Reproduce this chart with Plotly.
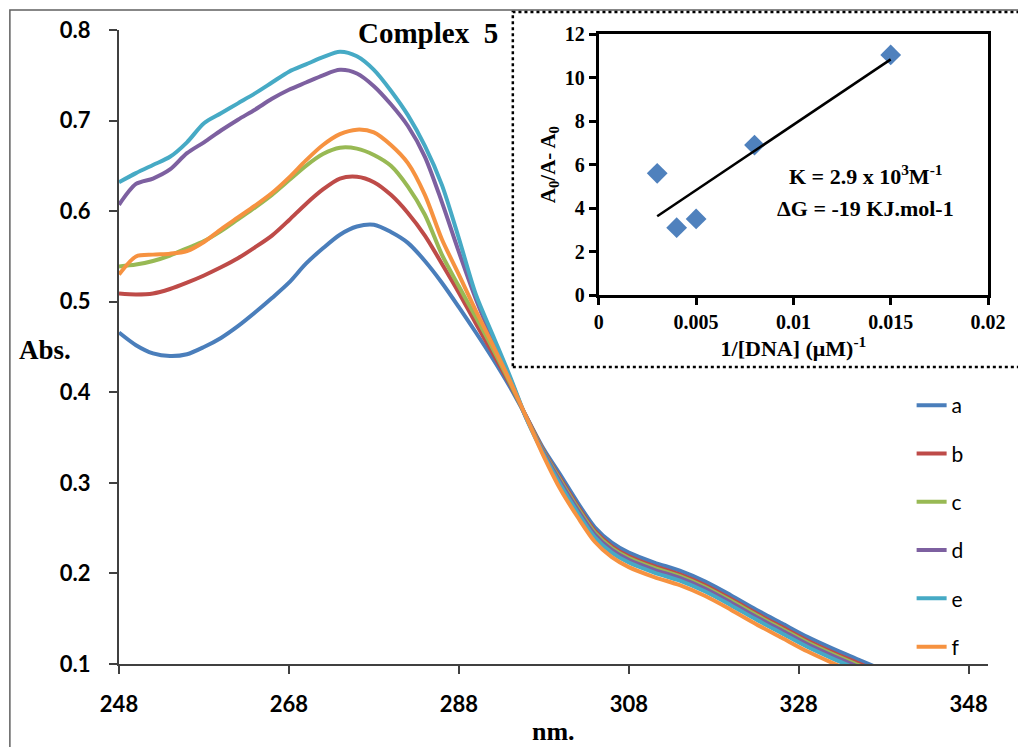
import numpy as np
import plotly.graph_objects as go

# ---------------- data ----------------
wavelength = [248, 250, 252, 254, 256, 258, 260, 262, 264, 266, 268, 270, 272, 274, 276,
              278, 280, 282, 284, 286, 288, 290, 292, 294, 296, 298, 300, 302, 304, 306,
              308, 311, 314, 317, 320, 323, 326, 329, 332, 335, 338]

abs_a = [0.466, 0.452, 0.443, 0.440, 0.442, 0.450, 0.460, 0.473, 0.488, 0.504, 0.521, 0.542,
         0.559, 0.574, 0.583, 0.585, 0.577, 0.565, 0.545, 0.521, 0.494, 0.466, 0.437, 0.406,
         0.372, 0.337, 0.308, 0.278, 0.251, 0.234, 0.223, 0.212, 0.203, 0.191, 0.176, 0.160,
         0.145, 0.130, 0.117, 0.105, 0.093]
abs_b = [0.509, 0.508, 0.509, 0.514, 0.521, 0.529, 0.538, 0.548, 0.560, 0.573, 0.590, 0.608,
         0.624, 0.636, 0.638, 0.632, 0.618, 0.598, 0.573, 0.542, 0.510, 0.476, 0.443, 0.409,
         0.372, 0.335, 0.304, 0.274, 0.247, 0.230, 0.219, 0.208, 0.199, 0.187, 0.172, 0.156,
         0.141, 0.126, 0.113, 0.101, 0.089]
abs_c = [0.539, 0.541, 0.545, 0.551, 0.559, 0.567, 0.578, 0.591, 0.604, 0.618, 0.634, 0.650,
         0.663, 0.670, 0.669, 0.662, 0.650, 0.627, 0.596, 0.552, 0.517, 0.483, 0.448, 0.411,
         0.371, 0.334, 0.302, 0.272, 0.245, 0.228, 0.217, 0.206, 0.197, 0.185, 0.170, 0.154,
         0.139, 0.124, 0.111, 0.099, 0.087]
abs_d = [0.607, 0.630, 0.636, 0.646, 0.664, 0.676, 0.689, 0.701, 0.712, 0.724, 0.734, 0.742,
         0.750, 0.756, 0.752, 0.738, 0.718, 0.694, 0.660, 0.610, 0.555, 0.503, 0.458, 0.416,
         0.370, 0.333, 0.300, 0.270, 0.243, 0.226, 0.215, 0.204, 0.195, 0.183, 0.168, 0.152,
         0.137, 0.122, 0.109, 0.097, 0.085]
abs_e = [0.632, 0.642, 0.651, 0.660, 0.676, 0.697, 0.708, 0.719, 0.730, 0.742, 0.754, 0.762,
         0.770, 0.776, 0.771, 0.756, 0.733, 0.706, 0.672, 0.629, 0.570, 0.508, 0.463, 0.418,
         0.370, 0.331, 0.297, 0.267, 0.240, 0.223, 0.212, 0.201, 0.192, 0.180, 0.165, 0.149,
         0.134, 0.119, 0.106, 0.094, 0.082]
abs_f = [0.530, 0.550, 0.552, 0.553, 0.556, 0.566, 0.580, 0.593, 0.606, 0.620, 0.637, 0.656,
         0.673, 0.685, 0.690, 0.687, 0.673, 0.653, 0.618, 0.569, 0.530, 0.490, 0.452, 0.413,
         0.371, 0.329, 0.292, 0.262, 0.235, 0.218, 0.207, 0.196, 0.187, 0.175, 0.160, 0.144,
         0.129, 0.114, 0.101, 0.089, 0.077]

series_names = ["a", "b", "c", "d", "e", "f"]
series_colors = ["#4A7EBB", "#BE4B48", "#98B954", "#7D60A0", "#46AAC5", "#F69240"]

x_ticks = [248, 268, 288, 308, 328, 348]

inv_dna = [0.003, 0.004, 0.005, 0.008, 0.015]
ratio = [5.6, 3.1, 3.5, 6.9, 11.05]

inset_x_ticks = [0, 0.005, 0.01, 0.015, 0.02]
inset_x_labels = ["0", "0.005", "0.01", "0.015", "0.02"]

# ---------------- geometry helpers ----------------
W, H = 1018, 747
L, R, T, B = 119, 23, 30, 83
PW, PH = W - L - R, H - T - B


def px(x):
    return (x - L) / PW


def py(y):
    return (T + PH - y) / PH


fig = go.Figure()

series = [abs_a, abs_b, abs_c, abs_d, abs_e, abs_f]
for name, vals, col in zip(series_names, series, series_colors):
    fig.add_trace(go.Scatter(
        x=wavelength, y=vals, name=name, mode="lines",
        line=dict(color=col, width=4, shape="spline", smoothing=0.8),
        legendgroup=name, xaxis="x", yaxis="y"))

# inset scatter + trendline
fig.add_trace(go.Scatter(
    x=inv_dna, y=ratio, mode="markers", showlegend=False,
    marker=dict(symbol="diamond", size=16, color="#4F81BD"),
    xaxis="x2", yaxis="y2"))
slope, intercept = np.polyfit(inv_dna, ratio, 1)
fit_x = [min(inv_dna), max(inv_dna)]
fit_y = [slope * v + intercept for v in fit_x]
fig.add_trace(go.Scatter(
    x=fit_x, y=fit_y, mode="lines", showlegend=False,
    line=dict(color="black", width=2.5), xaxis="x2", yaxis="y2"))

axis_col = "#404040"
main_tick_font = dict(family="Lato", size=22, color="black", weight="bold")
serif = "Liberation Serif"
inset_tick_font = dict(family=serif, size=20, color="black", weight="bold")

fig.update_layout(
    width=W, height=H,
    margin=dict(l=L, r=R, t=T, b=B, pad=0),
    paper_bgcolor="white", plot_bgcolor="white",
    showlegend=True,
    legend=dict(x=px(918), y=py(385), xanchor="left", yanchor="top",
                font=dict(family="Lato", size=21, color="black"),
                tracegroupgap=18, bgcolor="rgba(0,0,0,0)"),
    xaxis=dict(domain=[0, 1], range=[248, 248 + PW / 8.565],
               tickvals=x_ticks, ticks="outside", ticklen=8, tickwidth=2,
               tickcolor=axis_col, showline=True, linewidth=2, linecolor=axis_col,
               showgrid=False, zeroline=False, tickfont=main_tick_font,
               ticklabelstandoff=12),
    yaxis=dict(domain=[0, 1], range=[0.1, 0.8], dtick=0.1, tick0=0.1,
               tickformat=".1f", ticks="outside", ticklen=8, tickwidth=2,
               tickcolor=axis_col, showline=True, linewidth=2, linecolor=axis_col,
               showgrid=False, zeroline=False, tickfont=main_tick_font,
               ticklabelstandoff=14),
    xaxis2=dict(domain=[px(602.7), 1.0], anchor="y2", range=[0, 0.02],
                tickvals=inset_x_ticks, ticktext=inset_x_labels,
                ticks="outside", ticklen=7, tickwidth=2.5, tickcolor="black",
                showline=True, mirror=True, linewidth=3, linecolor="black",
                showgrid=False, zeroline=False, tickfont=inset_tick_font,
                title=dict(text="1/[DNA] (μM)<sup>-1</sup>", standoff=0,
                           font=dict(family=serif, size=22, color="black", weight="bold"))),
    yaxis2=dict(domain=[py(295), py(34.3)], anchor="x2", range=[0, 12], dtick=2,
                ticks="outside", ticklen=7, tickwidth=2.5, tickcolor="black",
                showline=True, mirror=True, linewidth=3, linecolor="black",
                showgrid=False, zeroline=False, tickfont=inset_tick_font,
                title=dict(text="A<sub>0</sub>/A- A<sub>0</sub>", standoff=4,
                           font=dict(family=serif, size=21, color="black", weight="bold"))),
    shapes=[
        dict(type="rect", xref="paper", yref="paper",
             x0=px(9), x1=px(1040), y0=py(10), y1=py(770),
             line=dict(color="#606060", width=1.5), layer="below"),
        dict(type="rect", xref="paper", yref="paper",
             x0=px(516), x1=px(1040), y0=py(367), y1=py(12),
             line=dict(color="black", width=2.5, dash="dot"), layer="above"),
    ],
    annotations=[
        dict(text="<b>Complex  5</b>", xref="paper", yref="paper",
             x=px(430), y=py(33), xanchor="center", yanchor="middle", showarrow=False,
             font=dict(family=serif, size=29, color="black")),
        dict(text="<b>Abs.</b>", xref="paper", yref="paper",
             x=px(16), y=py(350), xanchor="left", yanchor="middle", showarrow=False,
             font=dict(family=serif, size=27, color="black")),
        dict(text="<b>nm.</b>", xref="paper", yref="paper",
             x=px(557), y=py(731), xanchor="center", yanchor="middle", showarrow=False,
             font=dict(family=serif, size=26, color="black")),
        dict(text="<b>K = 2.9 x 10<sup>3</sup>M<sup>-1</sup></b>", xref="paper", yref="paper",
             x=px(872), y=py(175), xanchor="center", yanchor="middle", showarrow=False,
             font=dict(family=serif, size=22, color="black")),
        dict(text="<b>ΔG = -19 KJ.mol-1</b>", xref="paper", yref="paper",
             x=px(872), y=py(208), xanchor="center", yanchor="middle", showarrow=False,
             font=dict(family=serif, size=22, color="black")),
    ],
)

fig.write_html("out.html")
